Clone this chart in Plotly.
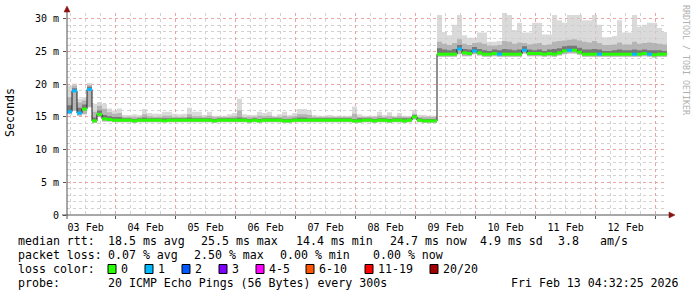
import plotly.graph_objects as go
import pandas as pd

# ---------------- data ----------------
START = "2026-02-03 04:32:25"
STEP_HOURS = 2

# median rtt per 2h step (ms)
med = [
 15.8, 19.0, 15.6, 16.2, 19.2, 14.4, 15.4, 14.7, 14.6, 14.5,
 14.5, 14.5, 14.5, 14.4, 14.5, 14.5, 14.5, 14.5, 14.5, 14.4,
 14.5, 14.5, 14.5, 14.5, 14.5, 14.5, 14.5, 14.5, 14.5, 14.4,
 14.5, 14.5, 14.5, 14.5, 14.5, 14.5, 14.4, 14.5, 14.4, 14.5,
 14.5, 14.5, 14.5, 14.4, 14.4, 14.5, 14.5, 14.5, 14.5, 14.5,
 14.5, 14.5, 14.5, 14.5, 14.5, 14.5, 14.5, 14.4, 14.4, 14.5,
 14.5, 14.4, 14.5, 14.5, 14.4, 14.5, 14.5, 14.4, 14.5, 15.0,
 14.5, 14.4, 14.4, 14.4, 24.6, 24.6, 24.6, 24.6, 25.4, 24.8,
 24.7, 25.1, 24.8, 24.6, 24.6, 24.7, 24.6, 24.6, 24.6, 24.6,
 24.6, 25.2, 24.7, 24.7, 24.7, 24.6, 24.7, 24.6, 24.8, 25.1,
 25.2, 25.2, 24.9, 24.6, 24.6, 24.6, 24.6, 24.6, 24.6, 24.6,
 24.6, 24.6, 24.6, 24.6, 24.6, 24.7, 24.6, 24.5, 24.6, 24.6,
]
# fastest ping (bottom of smoke)
lo = [
 15.4, 16.0, 15.2, 15.4, 16.5, 14.1, 15.0, 14.3, 14.3, 14.2,
 14.2, 14.2, 14.2, 14.1, 14.2, 14.2, 14.2, 14.2, 14.2, 14.2,
 14.2, 14.2, 14.2, 14.2, 14.2, 14.2, 14.2, 14.2, 14.2, 14.1,
 14.2, 14.2, 14.2, 14.2, 14.2, 14.2, 14.1, 14.2, 14.1, 14.2,
 14.2, 14.2, 14.2, 14.1, 14.1, 14.2, 14.2, 14.2, 14.2, 14.2,
 14.2, 14.2, 14.2, 14.2, 14.2, 14.2, 14.2, 14.1, 14.1, 14.2,
 14.2, 14.1, 14.2, 14.2, 14.1, 14.2, 14.2, 14.1, 14.2, 14.6,
 14.2, 14.1, 14.1, 14.1, 24.2, 24.2, 24.2, 24.2, 24.6, 24.3,
 24.3, 24.6, 24.4, 24.2, 24.2, 24.3, 24.2, 24.2, 24.2, 24.2,
 24.2, 24.7, 24.3, 24.3, 24.3, 24.2, 24.3, 24.2, 24.4, 24.6,
 24.7, 24.7, 24.5, 24.2, 24.2, 24.2, 24.2, 24.2, 24.2, 24.2,
 24.2, 24.2, 24.2, 24.2, 24.2, 24.3, 24.2, 24.1, 24.2, 24.2,
]
# inner (dark) smoke top
up1 = [
 16.8, 19.4, 16.4, 16.9, 19.6, 14.9, 16.0, 15.3, 15.1, 15.0,
 15.0, 14.8, 14.8, 14.7, 14.8, 14.9, 14.8, 14.8, 14.8, 14.8,
 14.8, 14.8, 14.8, 14.8, 14.9, 14.8, 14.8, 14.8, 14.8, 14.7,
 14.8, 14.8, 14.8, 14.8, 14.9, 14.8, 14.7, 14.8, 14.7, 14.8,
 14.8, 14.8, 14.8, 14.7, 14.7, 14.8, 14.9, 14.9, 14.8, 14.8,
 14.8, 14.8, 14.8, 14.8, 14.8, 14.8, 14.8, 14.7, 14.8, 14.8,
 14.8, 14.7, 14.8, 14.8, 14.7, 14.8, 14.8, 14.8, 14.8, 15.3,
 14.8, 14.7, 14.7, 14.7, 25.5, 25.3, 25.2, 25.4, 26.0, 25.4,
 25.3, 25.7, 25.4, 25.2, 25.1, 25.3, 25.2, 25.4, 25.3, 25.2,
 25.3, 25.8, 25.3, 25.2, 25.3, 25.1, 25.3, 25.4, 25.5, 25.8,
 25.9, 25.9, 25.6, 25.3, 25.3, 25.4, 25.3, 25.1, 25.1, 25.2,
 25.3, 25.2, 25.2, 25.3, 25.2, 25.3, 25.2, 25.2, 25.2, 25.1,
]
# middle (medium grey) smoke top
up2 = [
 18.0, 19.8, 17.2, 17.5, 19.9, 15.8, 16.7, 16.2, 15.7, 15.5,
 15.6, 15.0, 15.0, 15.0, 15.0, 15.4, 15.1, 15.0, 15.0, 15.2,
 15.2, 15.0, 15.0, 15.0, 15.4, 15.1, 15.1, 15.0, 15.2, 15.0,
 15.0, 15.0, 15.0, 15.1, 16.0, 15.0, 15.0, 15.0, 15.2, 15.1,
 15.2, 15.0, 15.0, 15.2, 15.0, 15.1, 15.4, 15.4, 15.3, 15.0,
 15.0, 15.0, 15.0, 15.0, 15.0, 15.0, 15.0, 15.5, 15.0, 15.0,
 15.0, 15.0, 15.2, 15.0, 15.1, 15.0, 15.1, 15.0, 15.0, 15.5,
 15.0, 15.0, 15.0, 15.0, 26.5, 26.2, 26.0, 26.3, 26.9, 26.2,
 26.0, 26.3, 26.4, 26.2, 25.9, 25.9, 26.0, 26.6, 26.5, 26.2,
 26.4, 26.3, 26.1, 26.2, 26.3, 26.0, 26.1, 26.5, 26.6, 26.7,
 26.8, 26.9, 26.7, 26.5, 26.4, 26.6, 26.3, 26.0, 26.0, 26.1,
 26.4, 26.1, 26.1, 26.5, 26.2, 26.3, 26.4, 26.3, 26.2, 26.1,
]
# slowest ping (top of smoke)
hi = [
 19.8, 20.1, 17.8, 18.0, 20.2, 17.0, 17.3, 17.0, 16.3, 16.0,
 16.3, 15.3, 15.3, 15.4, 15.3, 16.2, 15.6, 15.5, 15.5, 15.8,
 15.8, 15.5, 15.4, 15.5, 16.4, 15.8, 15.8, 15.3, 15.8, 15.2,
 15.2, 15.2, 15.4, 15.6, 17.8, 15.4, 15.3, 15.3, 15.8, 15.6,
 15.8, 15.2, 15.4, 15.8, 15.3, 15.6, 16.2, 16.2, 16.0, 15.3,
 15.2, 15.2, 15.3, 15.2, 15.2, 15.2, 15.2, 16.6, 15.4, 15.2,
 15.2, 15.2, 15.8, 15.3, 15.7, 15.2, 15.6, 15.2, 15.2, 16.1,
 15.3, 15.3, 15.2, 15.2, 30.6, 28.0, 27.5, 29.1, 30.6, 27.5,
 27.1, 27.1, 27.9, 27.9, 26.5, 26.5, 26.6, 30.9, 30.6, 28.3,
 29.4, 27.9, 27.9, 29.4, 29.4, 27.6, 27.6, 30.6, 29.8, 29.4,
 30.6, 30.6, 30.6, 29.8, 29.8, 30.6, 29.1, 27.2, 27.2, 27.4,
 29.8, 27.9, 27.9, 30.6, 28.8, 29.1, 29.4, 29.4, 28.6, 28.0,
]
# lost pings per step (of 20)
loss = [
 1, 1, 1, 0, 1, 0, 0, 0, 0, 0,
 0, 0, 0, 0, 0, 0, 0, 0, 0, 0,
 0, 0, 0, 0, 0, 0, 0, 0, 0, 0,
 0, 0, 0, 0, 0, 0, 0, 0, 0, 0,
 0, 0, 0, 0, 0, 0, 0, 0, 0, 0,
 0, 0, 0, 0, 0, 0, 0, 0, 0, 0,
 0, 0, 0, 0, 0, 0, 0, 0, 0, 0,
 0, 0, 0, 0, 0, 0, 0, 0, 1, 0,
 0, 1, 0, 0, 0, 0, 1, 0, 0, 0,
 0, 1, 0, 0, 0, 0, 0, 0, 0, 0,
 1, 0, 0, 0, 0, 0, 1, 0, 0, 0,
 0, 0, 0, 1, 0, 0, 1, 0, 0, 0,
]

y_tickvals = [0, 5, 10, 15, 20, 25, 30]
y_ticktext = ["0", "5 m", "10 m", "15 m", "20 m", "25 m", "30 m"]

legend_labels = ["0", "1", "2", "3", "4-5", "6-10", "11-19", "20/20"]
legend_colors = ["#26ff00", "#00b8ff", "#0059ff", "#7e00ff", "#ff00ff", "#ff5500", "#ff0000", "#a10000"]
loss_levels = [0, 1, 2, 3]

stats_line1 = [("median rtt:", 16), ("18.5 ms avg", 106), ("25.5 ms max", 199), ("14.4 ms min", 294),
               ("24.7 ms now", 388), ("4.9 ms sd", 478), ("3.8", 556), ("am/s", 598)]
stats_line2 = [("packet loss:", 16), ("0.07 % avg", 106), ("2.50 % max", 192), ("0.00 % min", 278),
               ("0.00 % now", 371)]
probe_text = "20 ICMP Echo Pings (56 Bytes) every 300s"
date_text = "Fri Feb 13 04:32:25 2026"

# ---------------- geometry helpers ----------------
W, H = 697, 297
L, R, T, B = 67, 30, 13, 82
PW, PH = W - L - R, H - T - B


def px(xp):
    return (xp - L) / PW


def py(yp):
    return (H - B - yp) / PH


N = len(med)
t0 = pd.Timestamp(START)
times = [t0 + pd.Timedelta(hours=STEP_HOURS * i) for i in range(N + 1)]


def ext(a):
    return list(a) + [a[-1]]


fig = go.Figure()

MONO = "DejaVu Sans Mono"


def band(lower, upper, color):
    fig.add_trace(go.Scatter(x=times, y=ext(lower), mode="lines", line=dict(width=0, shape="hv"),
                             hoverinfo="skip", showlegend=False))
    fig.add_trace(go.Scatter(x=times, y=ext(upper), mode="lines", line=dict(width=0, shape="hv"),
                             fill="tonexty", fillcolor=color, hoverinfo="skip", showlegend=False))


band(lo, hi, "rgba(205,205,205,0.75)")
band(lo, up2, "rgba(165,165,165,0.7)")
band(med, up1, "rgba(105,105,105,0.8)")

# median step line (black verticals)
fig.add_trace(go.Scatter(x=times, y=ext(med), mode="lines", line=dict(width=1, color="#202020", shape="hv"),
                         hoverinfo="skip", showlegend=False))

# loss-coloured median segments
for lv in loss_levels:
    xs, ys = [], []
    for i in range(N):
        if loss[i] == lv:
            xs += [times[i], times[i + 1], None]
            ys += [med[i], med[i], None]
    if xs:
        fig.add_trace(go.Scatter(x=xs, y=ys, mode="lines", line=dict(width=3, color=legend_colors[lv]),
                                 hoverinfo="skip", showlegend=False, connectgaps=False))

major_grid = "#eaa2a2"
minor_grid = "#d2d2d2"

fig.update_layout(
    width=W, height=H,
    margin=dict(l=L, r=R, t=T, b=B, pad=0),
    paper_bgcolor="white", plot_bgcolor="white",
    showlegend=False,
    font=dict(family=MONO, size=10, color="#000000"),
    xaxis=dict(
        type="date", range=[times[0], times[-1]],
        tick0="2026-02-03 00:00:00", dtick=86400000,
        ticklabelmode="period", tickformat="%d %b",
        showgrid=True, gridcolor=major_grid, griddash="dot", gridwidth=1,
        minor=dict(dtick=21600000, tick0="2026-02-03 00:00:00", showgrid=True,
                   gridcolor=minor_grid, griddash="dot", gridwidth=1),
        ticks="outside", ticklen=3, tickcolor="#555555", tickwidth=1,
        showline=False, zeroline=False,
        tickfont=dict(family=MONO, size=10, color="#000000"),
    ),
    yaxis=dict(
        range=[0, 30.9],
        tickvals=y_tickvals, ticktext=y_ticktext,
        showgrid=True, gridcolor=major_grid, griddash="dot", gridwidth=1,
        minor=dict(dtick=1, showgrid=True, gridcolor=minor_grid, griddash="dot", gridwidth=1),
        ticks="outside", ticklen=3, tickcolor="#555555", tickwidth=1,
        showline=False, zeroline=False,
        tickfont=dict(family=MONO, size=10, color="#000000"),
        ticklabelstandoff=2,
    ),
)

axis_col = "#505050"
arrow_col = "#8b1010"
shapes = [
    dict(type="line", xref="paper", yref="paper", x0=px(67), x1=px(67), y0=py(219), y1=py(11),
         line=dict(color=axis_col, width=1)),
    dict(type="line", xref="paper", yref="paper", x0=px(62), x1=px(670), y0=py(215), y1=py(215),
         line=dict(color=axis_col, width=1)),
    dict(type="path", xref="paper", yref="paper",
         path=f"M {px(669)},{py(212)} L {px(675)},{py(215)} L {px(669)},{py(218)} Z",
         fillcolor=arrow_col, line=dict(color=arrow_col, width=0.5)),
    dict(type="path", xref="paper", yref="paper",
         path=f"M {px(64)},{py(12)} L {px(67)},{py(6)} L {px(70)},{py(12)} Z",
         fillcolor=arrow_col, line=dict(color=arrow_col, width=0.5)),
]

sw_x = [108, 145, 182, 219, 256, 306, 365, 430]
ann = []
FS = 11.6
LINE_Y = [241, 255, 269, 283]


def txt(s, x, y, anchor="left", size=FS, color="#000000", angle=0):
    ann.append(dict(text=s, xref="paper", yref="paper", x=px(x), y=py(y), xanchor=anchor, yanchor="middle",
                    showarrow=False, textangle=angle, font=dict(family=MONO, size=size, color=color)))


for s, x in stats_line1:
    txt(s, x, LINE_Y[0])
for s, x in stats_line2:
    txt(s, x, LINE_Y[1])
txt("loss color:", 16, LINE_Y[2])
for lab, col, x in zip(legend_labels, legend_colors, sw_x):
    shapes.append(dict(type="rect", xref="paper", yref="paper", x0=px(x), x1=px(x + 8),
                       y0=py(LINE_Y[2] - 4.5), y1=py(LINE_Y[2] + 4.5),
                       fillcolor=col, line=dict(color="#000000", width=1)))
    txt(lab, x + 11, LINE_Y[2])
txt("probe:", 16, LINE_Y[3])
txt(probe_text, 106, LINE_Y[3])
txt(date_text, 681, LINE_Y[3], anchor="right")
txt("Seconds", 10, 113, anchor="center", angle=-90)
txt("RRDTOOL / TOBI OETIKER", 686, 60, anchor="center", size=8.3, color="#b0b0b0", angle=90)

fig.update_layout(shapes=shapes, annotations=ann)
fig.write_html("out.html")
